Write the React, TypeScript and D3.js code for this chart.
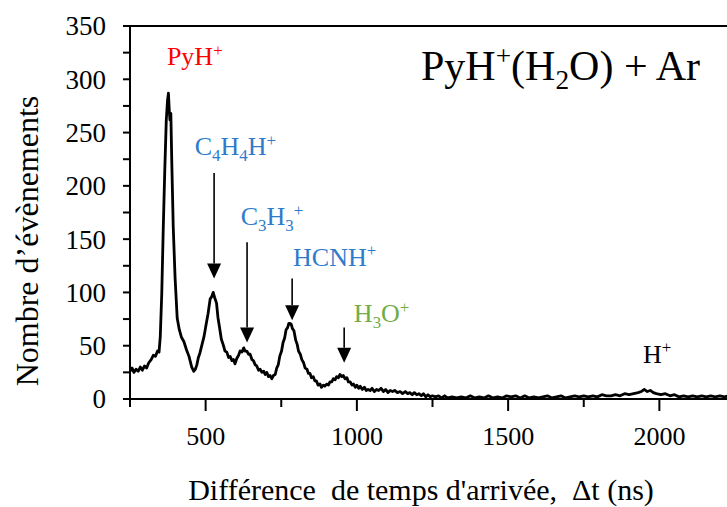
import React from "react";
import * as d3 from "d3";

// Arrival time difference (ns)
const times = [
  250, 257, 263, 270, 277, 284, 291, 298, 305, 312, 320, 327, 334, 341, 346, 350, 355, 360, 365, 370,
  374, 377, 380, 382, 385, 388, 393, 399, 406, 413, 420, 428, 437, 445, 454, 461, 466, 471, 476, 481,
  488, 495, 501, 508, 515, 520, 525, 530, 536, 541, 545, 552, 558, 564, 570, 576, 581, 587, 592, 597,
  603, 609, 614, 620, 626, 630, 636, 642, 647, 653, 658, 664, 669, 675, 680, 686, 692, 697, 702, 708,
  713, 719, 724, 730, 735, 740, 745, 751, 756, 761, 766, 771, 775, 779, 783, 787, 792, 798, 803, 807,
  813, 818, 824, 829, 835, 840, 845, 850, 856, 861, 866, 872, 878, 883, 889, 894, 900, 906, 911, 917,
  922, 928, 933, 939, 944, 950, 955, 961, 967, 972, 978, 984, 989, 995, 1000, 1006, 1011, 1018, 1025, 1031,
  1037, 1044, 1050, 1058, 1065, 1072, 1080, 1088, 1095, 1103, 1110, 1118, 1125, 1134, 1143, 1151, 1160, 1168, 1175, 1183,
  1190, 1198, 1205, 1213, 1220, 1228, 1235, 1243, 1250, 1260, 1270, 1280, 1290, 1300, 1315, 1330, 1345, 1360, 1375, 1390,
  1405, 1420, 1435, 1450, 1465, 1480, 1495, 1510, 1525, 1540, 1555, 1570, 1585, 1600, 1615, 1630, 1645, 1660, 1675, 1690,
  1705, 1720, 1735, 1750, 1765, 1780, 1795, 1810, 1825, 1840, 1855, 1870, 1885, 1900, 1915, 1930, 1940, 1950, 1960, 1970,
  1980, 1990, 2005, 2020, 2035, 2050, 2065, 2080, 2095, 2110, 2125, 2140, 2155, 2170, 2185, 2200, 2215, 2230, 2250,
];

// Number of events
const counts = [
  26, 29, 25, 28, 26, 30, 27, 31, 29, 34, 37, 41, 40, 45, 44, 58, 99, 161, 215, 262,
  280, 287, 270, 262, 268, 224, 161, 114, 76, 65, 58, 54, 46, 40, 30, 26, 28, 32, 39, 43,
  51, 59, 69, 80, 94, 96, 100, 95, 90, 76, 69, 56, 51, 45, 44, 39, 40, 36, 37, 33,
  38, 41, 45, 44, 48, 45, 45, 42, 42, 37, 36, 32, 31, 27, 28, 25, 26, 23, 25, 21,
  22, 19, 22, 23, 29, 32, 40, 45, 53, 57, 65, 67, 71, 71, 70, 66, 64, 55, 51, 45,
  42, 37, 34, 29, 28, 24, 24, 20, 21, 17, 17, 13, 14, 11, 13, 12, 14, 13, 16, 16,
  19, 18, 21, 20, 23, 21, 22, 19, 20, 16, 16, 13, 14, 11, 13, 10, 12, 9, 11, 8,
  9, 8, 10, 7, 9, 8, 10, 7, 9, 6, 8, 7, 8, 6, 7, 5, 7, 5, 6, 4,
  6, 4, 5, 3, 5, 2, 4, 2, 3, 2, 3, 1, 3, 1, 2, 1, 2, 1, 3, 1,
  2, 1, 3, 1, 2, 1, 3, 2, 3, 1, 3, 1, 2, 1, 2, 3, 1, 2, 3, 1,
  2, 3, 2, 3, 2, 3, 2, 4, 3, 3, 4, 3, 5, 4, 5, 6, 7, 9, 7, 8,
  6, 5, 4, 5, 3, 4, 2, 3, 2, 3, 2, 3, 2, 3, 2, 3, 2, 3, 2,
];

const yTickValues = [0, 50, 100, 150, 200, 250, 300, 350];
const yMinorValues = [25, 75, 125, 175, 225, 275, 325];
const xTickValues = [500, 1000, 1500, 2000];
const xMinorValues = [250, 750, 1250, 1750, 2250];

// Peak labels: markup "_" = subscript, "^" = superscript
const labelTexts = ["PyH^+", "C_4H_4H^+", "C_3H_3^+", "HCNH^+", "H_3O^+", "H^+"];
const labelColors = ["#FF0000", "#2E7BCB", "#2E7BCB", "#2E7BCB", "#70AD47", "#000000"];
const labelTimes = [372, 464, 616, 789, 990, 1946];
const labelCounts = [313, 229, 163, 125, 72, 34];

// Arrows: time position, count at tail, count at tip
const arrowTimes = [528, 637, 786, 958];
const arrowTops = [212, 147, 113, 67];
const arrowTips = [113, 53, 74, 34];

const titleText = "PyH^+(H_2O) + Ar";
const xTitle = "Différence  de temps d'arrivée,  Δt (ns)";
const yTitle = "Nombre d’évènements";

const FONT = '"Liberation Serif", "Times New Roman", "DejaVu Serif", serif';
const fontStyle = { fontFamily: FONT };

function rich(s: string, fs: number) {
  const parts: { t: string; k: "n" | "sup" | "sub" }[] = [];
  let i = 0;
  let buf = "";
  while (i < s.length) {
    const c = s[i];
    if (c === "^" || c === "_") {
      if (buf) parts.push({ t: buf, k: "n" });
      buf = "";
      parts.push({ t: s[i + 1], k: c === "^" ? "sup" : "sub" });
      i += 2;
    } else {
      buf += c;
      i++;
    }
  }
  if (buf) parts.push({ t: buf, k: "n" });
  let cur = 0;
  return parts.map((p, j) => {
    const target = p.k === "sup" ? -0.36 * fs : p.k === "sub" ? 0.22 * fs : 0;
    const dy = target - cur;
    cur = target;
    return (
      <tspan key={j} dy={dy} fontSize={p.k === "n" ? fs : fs * 0.65}>
        {p.t}
      </tspan>
    );
  });
}

export default function App() {
  const W = 727;
  const H = 507;
  const x = d3.scaleLinear().domain([250, 2250]).range([130, 735]);
  const y = d3.scaleLinear().domain([0, 350]).range([399, 26]);
  const data = times.map((t, i) => [t, counts[i]] as [number, number]);
  const line = d3
    .line<[number, number]>()
    .x((d) => x(d[0]))
    .y((d) => y(d[1]));

  const x0 = x(250);
  const y0 = y(0);

  return (
    <svg
      width={W}
      height={H}
      style={{ position: "absolute", left: 0, top: 0, background: "#fff", fontFamily: FONT }}
    >
      <rect x={0} y={0} width={W} height={H} fill="#fff" />
      {/* top frame line */}
      <line x1={x0} x2={W} y1={y(350)} y2={y(350)} stroke="#000" strokeWidth={2} />
      {/* data */}
      <path d={line(data) || ""} fill="none" stroke="#000" strokeWidth={2.8} strokeLinejoin="round" />
      {/* axes */}
      <line x1={x0} x2={x0} y1={y(350)} y2={y0} stroke="#000" strokeWidth={2} />
      <line x1={x0} x2={W} y1={y0} y2={y0} stroke="#000" strokeWidth={2} />
      {yTickValues.concat(yMinorValues).map((v) => (
        <line key={"yt" + v} x1={x0 - 7} x2={x0} y1={y(v)} y2={y(v)} stroke="#000" strokeWidth={2} />
      ))}
      {yTickValues.map((v) => (
        <text key={"yl" + v} x={106} y={y(v)} dy="0.35em" textAnchor="end" fontSize={27} style={fontStyle}>
          {v}
        </text>
      ))}
      {xTickValues.map((v) => (
        <line key={"xt" + v} x1={x(v)} x2={x(v)} y1={y0} y2={y0 + 12} stroke="#000" strokeWidth={2} />
      ))}
      {xMinorValues.map((v) => (
        <line key={"xm" + v} x1={x(v)} x2={x(v)} y1={y0} y2={y0 + 8} stroke="#000" strokeWidth={2} />
      ))}
      {xTickValues.map((v) => (
        <text key={"xl" + v} x={x(v)} y={445} textAnchor="middle" fontSize={26} style={fontStyle}>
          {v}
        </text>
      ))}
      {/* axis titles */}
      <text x={421} y={500} textAnchor="middle" fontSize={30} style={{ ...fontStyle, whiteSpace: "pre" }}>
        {xTitle}
      </text>
      <text
        transform={`translate(38, 241) rotate(-90)`}
        textAnchor="middle"
        fontSize={32}
        style={fontStyle}
      >
        {yTitle}
      </text>
      {/* title */}
      <text x={421} y={80} fontSize={42} style={fontStyle}>
        {rich(titleText, 42)}
      </text>
      {/* peak labels */}
      {labelTexts.map((s, i) => (
        <text
          key={"lab" + i}
          x={x(labelTimes[i])}
          y={y(labelCounts[i])}
          fontSize={26}
          fill={labelColors[i]}
          style={fontStyle}
        >
          {rich(s, 26)}
        </text>
      ))}
      {/* arrows */}
      {arrowTimes.map((t, i) => {
        const ax = x(t);
        const top = y(arrowTops[i]);
        const tip = y(arrowTips[i]);
        const base = tip - 15;
        return (
          <g key={"ar" + i}>
            <line x1={ax} x2={ax} y1={top} y2={base} stroke="#000" strokeWidth={1.6} />
            <polygon points={`${ax - 7},${base} ${ax + 7},${base} ${ax},${tip}`} fill="#000" />
          </g>
        );
      })}
    </svg>
  );
}
